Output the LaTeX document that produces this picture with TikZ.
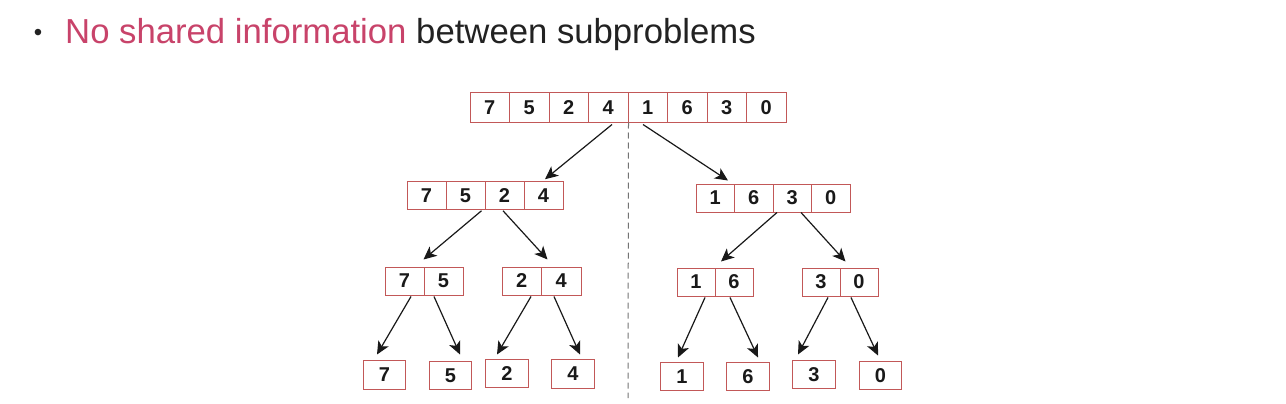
\documentclass[tikz,border=0pt]{standalone}
\usepackage{fontspec}
\setmainfont{Liberation Sans}
\usetikzlibrary{calc,arrows.meta}
\definecolor{cellred}{HTML}{C25858}
\definecolor{hilite}{HTML}{C8436A}
\definecolor{bodytext}{HTML}{222222}
\begin{document}
\begin{tikzpicture}[x=1pt,y=-1pt,
  cell/.style={draw=cellred,line width=1pt,inner sep=0pt,font=\fontsize{20}{20}\selectfont\bfseries,text=black!90},
  cw/.style={cell,minimum width=39.5pt,minimum height=29pt},
  cn/.style={cell,minimum width=39pt,minimum height=27.5pt},
  cs/.style={cell,minimum width=42.5pt,minimum height=28.5pt},
  link/.style={draw=black!90,line width=1.2pt,-{Stealth[length=13pt,width=12pt,inset=3.5pt]}},
  divider/.style={draw=black!55,line width=1pt,dash pattern=on 6pt off 4pt}]
\useasboundingbox (0,0) rectangle (1286,404);
% heading
\node[anchor=base,font=\fontsize{24}{24}\selectfont,text=bodytext] (bul) at (38,41) {•};
\node[anchor=base west,inner sep=0pt,font=\fontsize{34.7}{34.7}\selectfont] (head) at (65,44)
  {\textcolor{hilite}{No shared information} \textcolor{bodytext}{between subproblems}};
% top array
\foreach \v [count=\i] in {7,5,2,4,1,6,3,0}
  \node[cw] (t\i) at ({470+(\i-0.5)*39.5},107.5) {\v};
% level 2
\foreach \v [count=\i] in {7,5,2,4}
  \node[cn] (l\i) at ({407+(\i-0.5)*39},195.5) {\v};
\foreach \v [count=\i] in {1,6,3,0}
  \node[cn,minimum width=38.5pt,minimum height=28pt] (r\i) at ({696+(\i-0.5)*38.5},198) {\v};
% level 3
\node[cn,minimum height=28pt] (a1) at (404.5,281) {7};
\node[cn,minimum height=28pt] (a2) at (443.5,281) {5};
\node[cn,minimum width=39.5pt,minimum height=28pt] (b1) at (521.75,281) {2};
\node[cn,minimum width=39.5pt,minimum height=28pt] (b2) at (561.25,281) {4};
\node[cn,minimum width=38pt,minimum height=28pt] (c1) at (696,282) {1};
\node[cn,minimum width=38pt,minimum height=28pt] (c2) at (734,282) {6};
\node[cn,minimum width=38pt,minimum height=28pt] (d1) at (821,282) {3};
\node[cn,minimum width=38pt,minimum height=28pt] (d2) at (859,282) {0};
% level 4
\node[cs] (e1) at (384.5,375) {7};
\node[cs] (e2) at (450.5,375.5) {5};
\node[cs] (e3) at (507,373.5) {2};
\node[cs] (e4) at (573,374) {4};
\node[cs] (e5) at (682,376.5) {1};
\node[cs] (e6) at (748,376.5) {6};
\node[cs] (e7) at (814,374.5) {3};
\node[cs] (e8) at (880.5,375.5) {0};
% divider
\coordinate (dend) at (628,398);
\draw[divider] (t4.south east) -- (dend);
% arrows
\draw[link] ($(t4.south)+(3.75,2)$) -- ($(l4.north)+(1.5,-2)$);
\draw[link] ($(t5.south)+(-4.75,2)$) -- ($(r1.north)+(12.75,-3)$);
\draw[link] ($(l2.south east)+(-4,1)$) -- ($(a1.north east)+(-1,-7)$);
\draw[link] ($(l3.south)+(-1.5,1)$) -- ($(b1.north east)+(5.5,-7)$);
\draw[link] ($(r3.south)+(-15.25,0)$) -- ($(c2.north)+(-13,-6)$);
\draw[link] ($(r3.south)+(8.75,0)$) -- ($(d1.north east)+(5,-6)$);
\draw[link] ($(a1.south)+(6.5,1)$) -- ($(e1.north)+(-7.5,-5.75)$);
\draw[link] ($(a2.south)+(-9.5,1)$) -- ($(e2.north)+(9.5,-6.25)$);
\draw[link] ($(b1.south)+(9.25,1)$) -- ($(e3.north)+(-10,-4.25)$);
\draw[link] ($(b2.south)+(-7.25,1)$) -- ($(e4.north)+(7,-4.75)$);
\draw[link] ($(c1.south)+(9,1)$) -- ($(e5.north)+(-4,-4.25)$);
\draw[link] ($(c2.south)+(-4,1)$) -- ($(e6.north)+(10,-4.25)$);
\draw[link] ($(d1.south)+(7,1)$) -- ($(e7.north)+(-16,-5.25)$);
\draw[link] ($(d2.south)+(-8,1)$) -- ($(e8.north)+(-2.5,-5.25)$);
\end{tikzpicture}
\end{document}
